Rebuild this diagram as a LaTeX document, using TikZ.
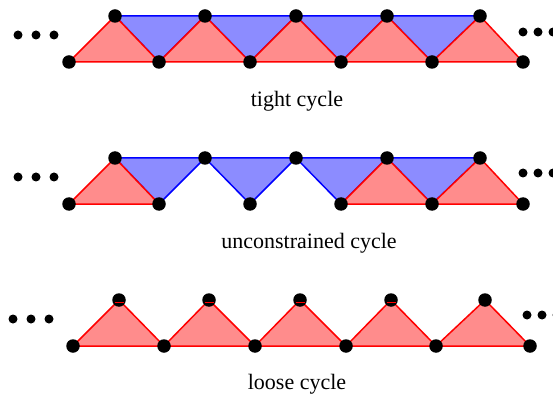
\documentclass[tikz,border=0pt]{standalone}
\usepackage{fontspec}
\setmainfont{Liberation Serif}
\begin{document}
\begin{tikzpicture}[x=1pt,y=-1pt,
  vtx/.style={circle,fill=black,inner sep=0pt,minimum size=13.5pt},
  ell/.style={circle,fill=black,inner sep=0pt,minimum size=9pt},
  redtri/.style={fill=red!45,draw=red,line width=1.5pt,line join=round},
  bluetri/.style={fill=blue!45,draw=blue,line width=1.5pt,line join=round},
  glitch/.style={draw=red,line width=1pt},
  lbl/.style={font=\fontsize{22}{24}\selectfont}]
\useasboundingbox (0,0) rectangle (553,395);

% ---------- tight cycle ----------
\foreach \x [count=\i] in {69,159,250,341,432,523} \coordinate (Tb\i) at (\x,62);
\foreach \x [count=\i] in {115,205,296,387,480} \coordinate (Tt\i) at (\x,16);
\foreach \i [evaluate=\i as \j using int(\i+1)] in {1,...,4}
  \draw[bluetri] (Tt\i) -- (Tt\j) -- (Tb\j) -- cycle;
\foreach \i [evaluate=\i as \j using int(\i+1)] in {1,...,5}
  \draw[redtri] (Tb\i) -- (Tt\i) -- (Tb\j) -- cycle;
\foreach \i in {1,...,6} \node[vtx] (TB\i) at (Tb\i) {};
\foreach \i in {1,...,5} \node[vtx] (TT\i) at (Tt\i) {};
\foreach \x [count=\i] in {18,36,54} \node[ell] (TL\i) at (\x,35) {};
\foreach \x [count=\i] in {523,538,553} \node[ell] (TR\i) at (\x,32) {};
\node[lbl] (tlabel) at (297,101) {tight cycle};

% ---------- unconstrained cycle ----------
\foreach \x [count=\i] in {69,159,250,341,432,523} \coordinate (Ub\i) at (\x,204);
\foreach \x [count=\i] in {115,205,296,387,480} \coordinate (Ut\i) at (\x,158);
\foreach \i [evaluate=\i as \j using int(\i+1)] in {1,...,4}
  \draw[bluetri] (Ut\i) -- (Ut\j) -- (Ub\j) -- cycle;
\foreach \i [evaluate=\i as \j using int(\i+1)] in {1,4,5}
  \draw[redtri] (Ub\i) -- (Ut\i) -- (Ub\j) -- cycle;
\foreach \i in {1,...,6} \node[vtx] (UB\i) at (Ub\i) {};
\foreach \i in {1,...,5} \node[vtx] (UT\i) at (Ut\i) {};
\foreach \x [count=\i] in {18,36,54} \node[ell] (UL\i) at (\x,177) {};
\foreach \x [count=\i] in {523,538,553} \node[ell] (UR\i) at (\x,173) {};
\node[lbl] (ulabel) at (309,243) {unconstrained cycle};

% ---------- loose cycle ----------
\foreach \x [count=\i] in {73,164,255,346,436,530} \coordinate (Lb\i) at (\x,346);
\foreach \x [count=\i] in {119,209,300,391,485} \coordinate (Lt\i) at (\x,300);
\foreach \i [evaluate=\i as \j using int(\i+1)] in {1,...,5}
  \draw[redtri] (Lb\i) -- (Lt\i) -- (Lb\j) -- cycle;
\foreach \i in {1,...,6} \node[vtx] (LB\i) at (Lb\i) {};
\foreach \i in {1,...,5} \node[vtx] (LT\i) at (Lt\i) {};
\foreach \i in {1,...,4}
  \draw[glitch] ([xshift=-4.5pt,yshift=-2pt]LT\i.center) -- ([xshift=4.5pt,yshift=-2pt]LT\i.center);
\foreach \x [count=\i] in {13,31,49} \node[ell] (LL\i) at (\x,319) {};
\foreach \x [count=\i] in {527,542,557} \node[ell] (LR\i) at (\x,315) {};
\node[lbl] (llabel) at (297,384) {loose cycle};
\end{tikzpicture}
\end{document}
